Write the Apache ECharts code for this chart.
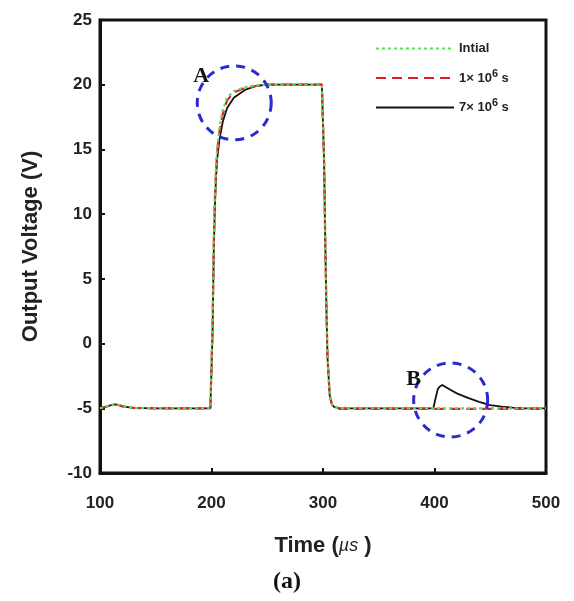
<!DOCTYPE html>
<html><head><meta charset="utf-8">
<script src="https://cdn.jsdelivr.net/npm/echarts@6/dist/echarts.min.js"></script>
<style>html,body{margin:0;padding:0;background:#fff}#c{width:574px;height:601px}</style>
</head><body><div id="c"></div>
<script>
// Time axis (µs)
var time = [100,105,110,113,117,120,130,150,180,199,200,201,202,203,204,205,207,210,214,220,230,240,250,270,299,300,301,302,303,304,306,308,310,315,330,360,399,400,401,403,405,407,410,415,420,430,440,450,460,470,480,500];
// Output voltage (V)
var initial = [-5,-4.9,-4.75,-4.7,-4.75,-4.85,-4.97,-5,-5,-5,-5,2,8,11.5,13.5,15,16.6,18,19,19.5,19.8,19.95,20,20,20,20,14,8,3,-1,-4,-4.7,-4.9,-5,-5,-5,-5,-5,-5,-5,-5,-5,-5,-5,-5,-5,-5,-5,-5,-5,-5,-5];
var stress1e6 = [-5,-4.9,-4.75,-4.7,-4.75,-4.85,-4.97,-5,-5,-5,-5,1.5,7.5,11,13.2,14.7,16.3,17.7,18.8,19.4,19.75,19.9,20,20,20,20,14,8,3,-1,-4,-4.7,-4.9,-5.05,-5.05,-5.05,-5.05,-5.05,-5.05,-5.05,-5.05,-5.05,-5.05,-5.05,-5.05,-5.05,-5.05,-5.05,-5.05,-5.05,-5.05,-5.05];
var stress7e6 = [-5,-4.9,-4.75,-4.7,-4.75,-4.85,-4.97,-5,-5,-5,-5,1,7,10.5,12.7,14.2,15.7,17.1,18.2,19,19.6,19.9,20,20,20,20,14,8,3,-1,-4,-4.7,-4.9,-5,-5,-5,-5,-5,-4.2,-3.5,-3.3,-3.2,-3.35,-3.6,-3.85,-4.2,-4.5,-4.75,-4.87,-4.95,-5,-5];
var seriesNames = ['Intial','1× 10^6 s','7× 10^6 s'];
var xTicks = [100,200,300,400,500];
var yTicks = [-10,-5,0,5,10,15,20,25];
// annotation circles [time, voltage, label]
var circleA = [220.4, 18.6, 'A'];
var circleB = [414.5, -4.36, 'B'];

function pairs(v){ return time.map(function(t,i){ return [t, v[i]]; }); }
var chart = echarts.init(document.getElementById('c'));
var font = '"Liberation Sans", Arial, sans-serif';
var serif = '"Liberation Serif", "Times New Roman", serif';
function legendFmt(n){
  if (n.indexOf('^') < 0) return '{a|' + n + '}';
  var p = n.split('^'); var q = p[1].split(' ');
  return '{a|' + p[0] + '}{s|' + q[0] + '}{a| ' + q[1] + '}';
}
chart.setOption({
  animation: false,
  backgroundColor: '#fff',
  grid: {left: 100, right: 28, top: 20, bottom: 128, show: true, borderColor: '#111', borderWidth: 3},
  legend: {
    orient: 'vertical', left: 370, top: 37, itemWidth: 78, itemHeight: 14, itemGap: 13,
    data: seriesNames, formatter: legendFmt,
    itemStyle: {opacity: 0},
    textStyle: {rich: {
      a: {fontFamily: font, fontSize: 13, fontWeight: 'bold', color: '#222'},
      s: {fontFamily: font, fontSize: 11, fontWeight: 'bold', color: '#222', padding: [0,0,9,0]}
    }}
  },
  xAxis: {
    type: 'value', min: 100, max: 500, interval: 100,
    axisLine: {onZero: false, lineStyle: {color: '#111', width: 3}},
    axisTick: {inside: true, length: 5, lineStyle: {color: '#111', width: 2}},
    axisLabel: {fontFamily: font, fontSize: 17, fontWeight: 'bold', color: '#222', margin: 22,
      formatter: function(v){ return xTicks.indexOf(v) >= 0 ? String(v) : ''; }},
    splitLine: {show: false},
    name: '{a|Time (}{b|µs}{a| )}', nameLocation: 'middle', nameGap: 62,
    nameTextStyle: {rich: {
      a: {fontFamily: font, fontSize: 22, fontWeight: 'bold', color: '#222'},
      b: {fontFamily: font, fontSize: 18, fontStyle: 'italic', color: '#222'}
    }}
  },
  yAxis: {
    type: 'value', min: -10, max: 25, interval: 5,
    axisLine: {onZero: false, lineStyle: {color: '#111', width: 3}},
    axisTick: {inside: true, length: 5, lineStyle: {color: '#111', width: 2}},
    axisLabel: {fontFamily: font, fontSize: 17, fontWeight: 'bold', color: '#222', margin: 8,
      formatter: function(v){ return yTicks.indexOf(v) >= 0 ? String(v) : ''; }},
    splitLine: {show: false},
    name: 'Output Voltage (V)', nameLocation: 'middle', nameGap: 58,
    nameTextStyle: {fontFamily: font, fontSize: 22, fontWeight: 'bold', color: '#222'}
  },
  series: [
    {name: seriesNames[2], type: 'line', data: pairs(stress7e6), symbol: 'none', color: '#111',
     lineStyle: {color: '#111', width: 1.8}, z: 2},
    {name: seriesNames[1], type: 'line', data: pairs(stress1e6), symbol: 'none', color: '#e02020',
     lineStyle: {color: '#e02020', width: 2.2, type: [10, 6]}, z: 3},
    {name: seriesNames[0], type: 'line', data: pairs(initial), symbol: 'none', color: '#55dd55',
     lineStyle: {color: '#55dd55', width: 2.2, type: [3, 3]}, z: 4}
  ]
});

function circ(c, dx, dy){
  var p = chart.convertToPixel({gridIndex: 0}, [c[0], c[1]]);
  return [
    {type: 'circle', shape: {cx: p[0], cy: p[1], r: 37}, z: 10,
     style: {fill: 'none', stroke: '#2a2ad0', lineWidth: 3, lineDash: [9, 7]}},
    {type: 'text', x: p[0] + dx, y: p[1] + dy, z: 10,
     style: {text: c[2], fontFamily: serif, fontSize: 22, fontWeight: 'bold', fill: '#111', align: 'center', verticalAlign: 'middle'}}
  ];
}
chart.setOption({graphic: [{type: 'text', left: 'center', top: 570,
    style: {text: '(a)', fontFamily: serif, fontSize: 24, fontWeight: 'bold', fill: '#111'}}]
  .concat(circ(circleA, -33, -27)).concat(circ(circleB, -37, -21))});
</script></body></html>
